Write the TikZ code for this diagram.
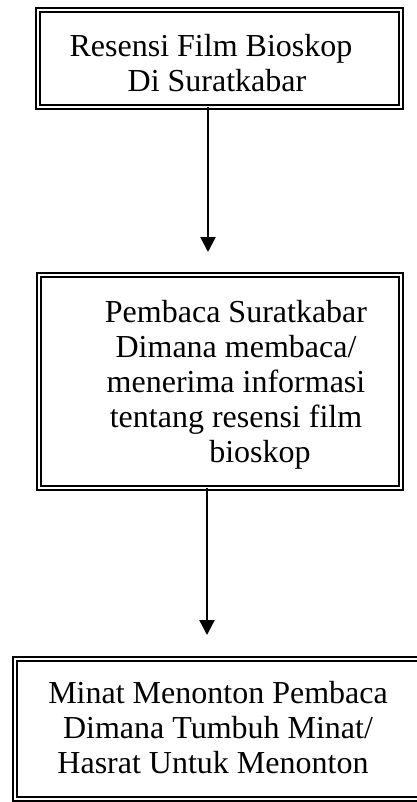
\documentclass[tikz,border=0pt]{standalone}
\usepackage{fontspec}
\setmainfont{Liberation Serif}
\usetikzlibrary{arrows.meta}
\tikzset{
  box/.style={draw=black, double=white, double distance=2pt, line width=2pt, rectangle, inner sep=0pt, outer sep=0pt},
  txt/.style={align=center, inner sep=0pt, font=\fontsize{32}{35}\selectfont, anchor=base},
  arr/.style={line width=2.4pt, -{Triangle[width=15pt,length=15pt]}}
}
\begin{document}
\begin{tikzpicture}[x=1pt,y=-1pt]
\useasboundingbox (0,0) rectangle (417,802);
\clip (0,0) rectangle (417,802);
\node[box, minimum width=363pt, minimum height=97pt] (b1) at (219,59) {};
\node[box, minimum width=362pt, minimum height=213pt] (b2) at (219.5,381) {};
\node[box, minimum width=409pt, minimum height=140pt] (b3) at (219,728.5) {};
\node[txt] (t1) at (211,92) {Resensi Film Bioskop\\\hspace*{12pt}Di Suratkabar};
\node[txt] (t2) at (236,462) {Pembaca Suratkabar\\Dimana membaca/\\menerima informasi\\tentang resensi film\\\hspace*{48pt}bioskop};
\node[txt] (t3) at (218,773) {Minat Menonton Pembaca\\Dimana Tumbuh Minat/\\Hasrat Untuk Menonton\hspace*{10pt}};
\coordinate (e1) at (208,252);
\coordinate (e2) at (207,635);
\draw[arr] (b1.south -| e1) -- (e1);
\draw[arr] (b2.south -| e2) -- (e2);
\end{tikzpicture}
\end{document}
